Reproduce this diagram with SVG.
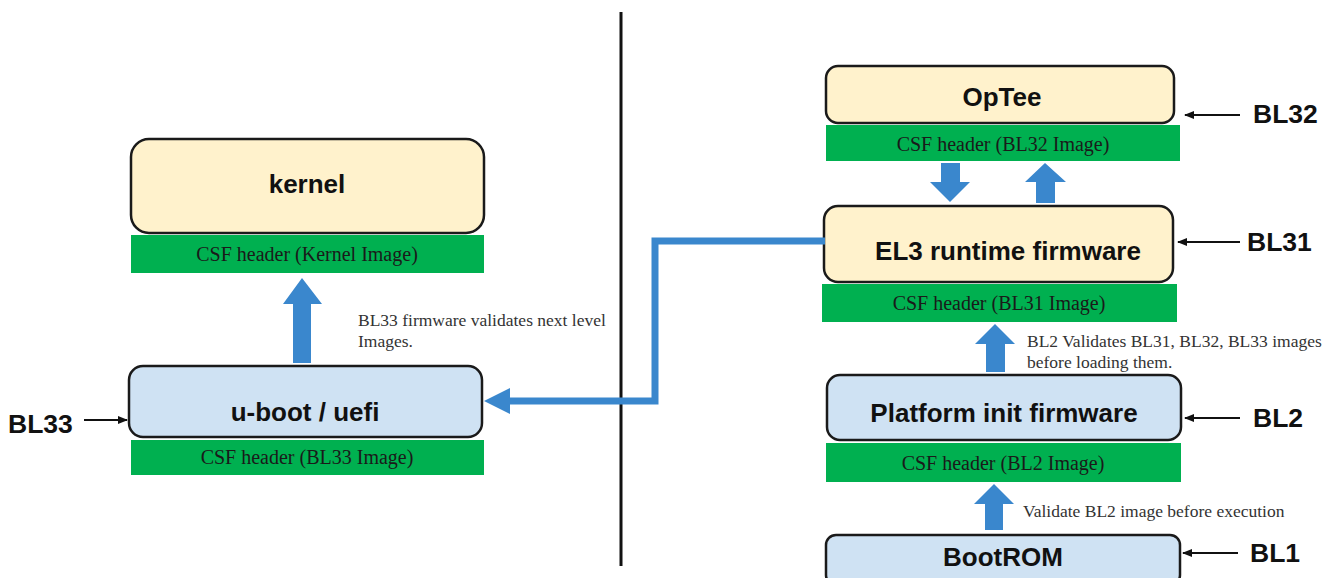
<svg xmlns="http://www.w3.org/2000/svg" width="1338" height="578" viewBox="0 0 1338 578">
<defs>
<style>
.cream{fill:#FFF2CC;stroke:#1a1a1a;stroke-width:2.5}
.lblue{fill:#CFE2F3;stroke:#1a1a1a;stroke-width:2.5}
.csf{fill:#00B050}
.csft{font-family:"Liberation Serif",serif;font-size:20px;fill:#1a1a1a;text-anchor:middle}
.title{font-family:"Liberation Sans",Arial,sans-serif;font-weight:bold;font-size:26px;fill:#111;text-anchor:middle}
.bl{font-family:"Liberation Sans",Arial,sans-serif;font-weight:bold;font-size:26.5px;fill:#111}
.note{font-family:"Liberation Serif",serif;font-size:17.5px;fill:#333}
.blk{fill:#3A87CD}
.ptr{stroke:#111;stroke-width:2;fill:none;marker-end:url(#ah)}
</style>
<marker id="ah" markerWidth="10" markerHeight="10" refX="9" refY="5" orient="auto" markerUnits="userSpaceOnUse">
<path d="M0,1 L10,5 L0,9 Z" fill="#111"/>
</marker>
</defs>
<rect width="1338" height="578" fill="#fff"/>

<line x1="621" y1="12" x2="621" y2="566" stroke="#111" stroke-width="3"/>

<g id="kernel">
<rect class="cream" x="131" y="139" width="353" height="94" rx="18"/>
<text class="title" x="307" y="193">kernel</text>
<rect class="csf" x="131" y="235" width="353" height="38"/>
<text class="csft" x="307" y="261">CSF header (Kernel Image)</text>
</g>

<g id="uboot">
<rect class="lblue" x="129" y="366" width="353" height="71" rx="14"/>
<text class="title" x="305" y="421">u-boot / uefi</text>
<rect class="csf" x="131" y="440" width="353" height="35"/>
<text class="csft" x="307" y="464">CSF header (BL33 Image)</text>
</g>

<g id="optee">
<rect class="cream" x="826" y="66" width="348" height="57" rx="12"/>
<text class="title" x="1002" y="106">OpTee</text>
<rect class="csf" x="826" y="125" width="354" height="36"/>
<text class="csft" x="1003" y="151">CSF header (BL32 Image)</text>
</g>

<g id="el3">
<rect class="cream" x="824" y="206" width="349" height="76" rx="14"/>
<text class="title" x="1008" y="260">EL3 runtime firmware</text>
<rect class="csf" x="822" y="284" width="355" height="38"/>
<text class="csft" x="999" y="310">CSF header (BL31 Image)</text>
</g>

<g id="platform">
<rect class="lblue" x="827" y="375" width="354" height="65" rx="13"/>
<text class="title" x="1004" y="422">Platform init firmware</text>
<rect class="csf" x="826" y="443" width="355" height="39"/>
<text class="csft" x="1003" y="470">CSF header (BL2 Image)</text>
</g>

<g id="bootrom">
<rect class="lblue" x="826" y="535" width="354" height="50" rx="10"/>
<text class="title" x="1003" y="566">BootROM</text>
</g>

<g id="labels">
<text class="bl" x="8" y="433">BL33</text>
<text class="bl" x="1253" y="123">BL32</text>
<text class="bl" x="1247" y="251">BL31</text>
<text class="bl" x="1253" y="427">BL2</text>
<text class="bl" x="1250" y="562">BL1</text>
<text class="note" x="358" y="326">BL33 firmware validates next level</text>
<text class="note" x="358" y="347">Images.</text>
<text class="note" x="1027" y="347">BL2 Validates BL31, BL32, BL33 images</text>
<text class="note" x="1027" y="368">before loading them.</text>
<text class="note" x="1023" y="517">Validate BL2 image before execution</text>
</g>

<g id="connectors">
<line class="ptr" x1="84" y1="420" x2="127" y2="420"/>
<line class="ptr" x1="1240" y1="115" x2="1185" y2="115"/>
<line class="ptr" x1="1240" y1="242" x2="1178" y2="242"/>
<line class="ptr" x1="1240" y1="418" x2="1185" y2="418"/>
<line class="ptr" x1="1238" y1="553" x2="1183" y2="553"/>
<polygon class="blk" points="293,363 293,304 283,304 302,278 322,304 311,304 311,363"/>
<polygon class="blk" points="941,163 960,163 960,182 970,182 950,202 930,182 941,182"/>
<polygon class="blk" points="1036,203 1036,182 1025,182 1045,163 1066,182 1055,182 1055,203"/>
<polygon class="blk" points="986,372 986,344 975,344 995,324 1015,344 1005,344 1005,372"/>
<polygon class="blk" points="985,530 985,504 974,504 994,484 1014,504 1003,504 1003,530"/>
<polyline points="825,241 655,241 655,401 508,401" fill="none" stroke="#3A87CD" stroke-width="7" stroke-linejoin="miter"/>
<polygon class="blk" points="510,388 484,401 510,414"/>
</g>
</svg>
